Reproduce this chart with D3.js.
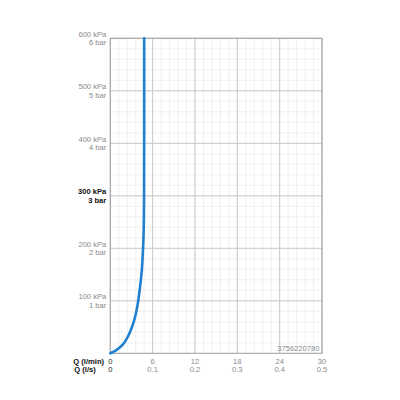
<!DOCTYPE html>
<html>
<head>
<meta charset="utf-8">
<script src="https://cdn.jsdelivr.net/npm/d3@7"></script>
<style>
	body { margin: 0; background: #fff; }
	svg text { font-family: 'Liberation Sans', Arial, sans-serif; font-size: 7.6px; }
</style>
</head>
<body>
<div id="graphic"></div>
<script>
// pressure-flow curve
let pressure_kpa = [0, 6, 17, 32, 51, 73, 98, 127, 159, 197, 229, 290, 600];
let flow_lmin = [0, 0.85, 1.8, 2.5, 3.1, 3.58, 3.93, 4.22, 4.47, 4.63, 4.72, 4.78, 4.8];

let y_ticks = [100, 200, 300, 400, 500, 600];
let bar_labels = ['1 bar', '2 bar', '3 bar', '4 bar', '5 bar', '6 bar'];
let x_ticks = [0, 6, 12, 18, 24, 30];
let ls_labels = ['0', '0.1', '0.2', '0.3', '0.4', '0.5'];
let highlight_tick = 300;
let article_no = '3756220780';

let graphic_data = pressure_kpa.map((p, i) => ({ p: p, q: flow_lmin[i] }));

const margin = { top: 38.3, right: 78, bottom: 46.7, left: 110.3 };
const width = 400 - margin.left - margin.right;
const height = 400 - margin.top - margin.bottom;

const svg = d3.select('#graphic')
	.append('svg')
	.attr('width', 400)
	.attr('height', 400)
	.append('g')
	.attr('transform', 'translate(' + margin.left + ',' + margin.top + ')');

const x = d3.scaleLinear().domain([0, 30]).range([0, width]);
const y = d3.scaleLinear().domain([0, 600]).range([height, 0]);

// minor grid
svg.append('g')
	.selectAll('line.vminor')
	.data(d3.range(0, 30.01, 1.2))
	.join('line')
	.attr('x1', (d) => x(d)).attr('x2', (d) => x(d))
	.attr('y1', 0).attr('y2', height)
	.attr('stroke', '#ececec').attr('stroke-width', 0.8);

svg.append('g')
	.selectAll('line.hminor')
	.data(d3.range(0, 600.1, 20))
	.join('line')
	.attr('y1', (d) => y(d)).attr('y2', (d) => y(d))
	.attr('x1', 0).attr('x2', width)
	.attr('stroke', '#ececec').attr('stroke-width', 0.8);

// major grid
svg.append('g')
	.selectAll('line')
	.data(x_ticks)
	.join('line')
	.attr('x1', (d) => x(d)).attr('x2', (d) => x(d))
	.attr('y1', 0).attr('y2', height)
	.attr('stroke', '#cacaca').attr('stroke-width', 1);

svg.append('g')
	.selectAll('line')
	.data(y_ticks)
	.join('line')
	.attr('y1', (d) => y(d)).attr('y2', (d) => y(d))
	.attr('x1', 0).attr('x2', width)
	.attr('stroke', '#cacaca').attr('stroke-width', 1);

// frame
svg.append('rect')
	.attr('x', 0).attr('y', 0)
	.attr('width', width).attr('height', height)
	.attr('fill', 'none')
	.attr('stroke', '#a0a0a0').attr('stroke-width', 1);

// y labels: kPa above the line, bar below
let ylab = svg.append('g')
	.selectAll('g')
	.data(y_ticks)
	.join('g')
	.attr('transform', (d) => 'translate(-4,' + y(d) + ')');

ylab.append('text')
	.attr('y', -1.6)
	.attr('text-anchor', 'end')
	.attr('fill', (d) => d == highlight_tick ? '#111' : '#8a8a8a')
	.attr('font-weight', (d) => d == highlight_tick ? 'bold' : 'normal')
	.text((d) => d + ' kPa');

ylab.append('text')
	.attr('y', 7)
	.attr('text-anchor', 'end')
	.attr('fill', (d) => d == highlight_tick ? '#111' : '#8a8a8a')
	.attr('font-weight', (d) => d == highlight_tick ? 'bold' : 'normal')
	.text((d, i) => bar_labels[i]);

// x labels, two rows
svg.append('g')
	.selectAll('text')
	.data(x_ticks)
	.join('text')
	.attr('x', (d) => x(d))
	.attr('y', height + 10.3)
	.attr('text-anchor', 'middle')
	.attr('fill', (d) => d == 0 ? '#222' : '#8a8a8a')
	.text((d) => d);

svg.append('g')
	.selectAll('text')
	.data(x_ticks)
	.join('text')
	.attr('x', (d) => x(d))
	.attr('y', height + 18.8)
	.attr('text-anchor', 'middle')
	.attr('fill', (d) => d == 0 ? '#222' : '#8a8a8a')
	.text((d, i) => ls_labels[i]);

svg.append('text')
	.attr('x', -37)
	.attr('y', height + 10.3)
	.attr('font-weight', 'bold')
	.attr('fill', '#111')
	.text('Q (l/min)');

svg.append('text')
	.attr('x', -36)
	.attr('y', height + 18.8)
	.attr('font-weight', 'bold')
	.attr('fill', '#111')
	.text('Q (l/s)');

svg.append('text')
	.attr('x', width - 2.5)
	.attr('y', height - 2)
	.attr('text-anchor', 'end')
	.attr('fill', '#8a8a8a')
	.text(article_no);

// curve
const line = d3.line()
	.x((d) => x(d.q))
	.y((d) => y(d.p))
	.curve(d3.curveCatmullRom.alpha(0.5));

svg.append('path')
	.datum(graphic_data)
	.attr('d', line)
	.attr('fill', 'none')
	.attr('stroke', '#1f80cf')
	.attr('stroke-width', 2.6)
	.attr('stroke-linecap', 'round');
</script>
</body>
</html>
